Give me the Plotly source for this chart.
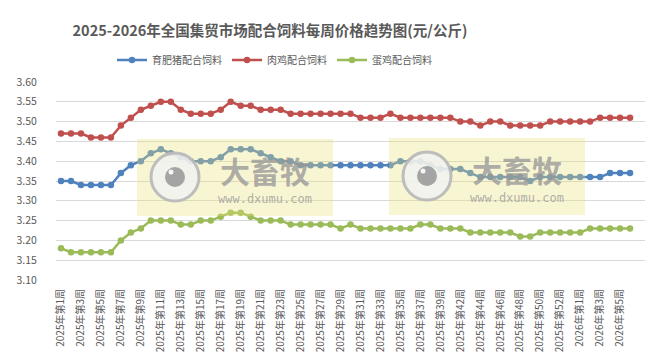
import plotly.graph_objects as go

weeks = [
    "2025年第1周", "2025年第2周", "2025年第3周", "2025年第4周", "2025年第5周", "2025年第6周",
    "2025年第7周", "2025年第8周", "2025年第9周", "2025年第10周", "2025年第11周", "2025年第12周",
    "2025年第13周", "2025年第14周", "2025年第15周", "2025年第16周", "2025年第17周", "2025年第18周",
    "2025年第19周", "2025年第20周", "2025年第21周", "2025年第22周", "2025年第23周", "2025年第24周",
    "2025年第25周", "2025年第26周", "2025年第27周", "2025年第28周", "2025年第29周", "2025年第30周",
    "2025年第31周", "2025年第32周", "2025年第33周", "2025年第34周", "2025年第35周", "2025年第36周",
    "2025年第37周", "2025年第38周", "2025年第39周", "2025年第41周", "2025年第42周", "2025年第43周",
    "2025年第44周", "2025年第45周", "2025年第46周", "2025年第47周", "2025年第48周", "2025年第49周",
    "2025年第50周", "2025年第51周", "2025年第52周", "2025年第53周", "2026年第1周", "2026年第2周",
    "2026年第3周", "2026年第4周", "2026年第5周", "2026年第6周",
]

pig_feed = [
    3.35, 3.35, 3.34, 3.34, 3.34, 3.34, 3.37, 3.39, 3.40, 3.42, 3.43, 3.42,
    3.41, 3.40, 3.40, 3.40, 3.41, 3.43, 3.43, 3.43, 3.42, 3.41, 3.40, 3.40,
    3.39, 3.39, 3.39, 3.39, 3.39, 3.39, 3.39, 3.39, 3.39, 3.39,
    3.40, 3.40, 3.40, 3.39, 3.38, 3.38, 3.38, 3.37, 3.36, 3.36, 3.36, 3.36, 3.36, 3.35,
    3.36, 3.36, 3.36, 3.36, 3.36, 3.36, 3.36, 3.37, 3.37, 3.37,
]

broiler_feed = [
    3.47, 3.47, 3.47, 3.46, 3.46, 3.46, 3.49, 3.51, 3.53, 3.54, 3.55, 3.55,
    3.53, 3.52, 3.52, 3.52, 3.53, 3.55, 3.54, 3.54, 3.53, 3.53, 3.53,
    3.52, 3.52, 3.52, 3.52, 3.52, 3.52, 3.52, 3.51, 3.51, 3.51, 3.52,
    3.51, 3.51, 3.51, 3.51, 3.51, 3.51, 3.50, 3.50, 3.49, 3.50, 3.50, 3.49, 3.49, 3.49, 3.49,
    3.50, 3.50, 3.50, 3.50, 3.50, 3.51, 3.51, 3.51, 3.51,
]

layer_feed = [
    3.18, 3.17, 3.17, 3.17, 3.17, 3.17, 3.20, 3.22, 3.23, 3.25, 3.25, 3.25,
    3.24, 3.24, 3.25, 3.25, 3.26, 3.27, 3.27, 3.26, 3.25, 3.25, 3.25,
    3.24, 3.24, 3.24, 3.24, 3.24, 3.23, 3.24, 3.23, 3.23, 3.23, 3.23, 3.23, 3.23,
    3.24, 3.24, 3.23, 3.23, 3.23, 3.22, 3.22, 3.22, 3.22, 3.22, 3.21, 3.21,
    3.22, 3.22, 3.22, 3.22, 3.22, 3.23, 3.23, 3.23, 3.23, 3.23,
]

series_names = ["育肥猪配合饲料", "肉鸡配合饲料", "蛋鸡配合饲料"]
series_colors = ["#4F81BD", "#C0504D", "#9BBB59"]

FONT = "Noto Sans CJK SC, Noto Sans, sans-serif"
TXT = "#595959"

fig = go.Figure()
for name, vals, col in zip(series_names, [pig_feed, broiler_feed, layer_feed], series_colors):
    fig.add_trace(go.Scatter(
        x=weeks, y=vals, name=name, mode="lines+markers",
        line=dict(color=col, width=2.5),
        marker=dict(color=col, size=6.5, symbol="circle"),
    ))

# plot-area pixel geometry
L, R, T, B = 48, 637, 74, 272
W, H = 654, 361

def px(x):
    return (x - L) / (R - L)

def py(y):
    return (B - y) / (B - T)

shapes = []
annotations = []
for dx, dy in [(0, 0), (252, -1)]:
    shapes.append(dict(type="rect", xref="paper", yref="paper", layer="above",
                       x0=px(129 + dx), x1=px(325 + dx), y0=py(208 + dy), y1=py(131 + dy),
                       fillcolor="rgba(235,225,120,0.33)", line=dict(width=0)))
    cx, cy = 167 + dx, 169 + dy
    r = 24
    shapes.append(dict(type="circle", xref="paper", yref="paper", layer="above",
                       x0=px(cx - r), x1=px(cx + r), y0=py(cy + r), y1=py(cy - r),
                       fillcolor="rgba(242,242,242,0.85)",
                       line=dict(color="rgba(185,185,185,0.95)", width=3)))
    r2 = 10
    shapes.append(dict(type="circle", xref="paper", yref="paper", layer="above",
                       x0=px(cx - r2), x1=px(cx + r2), y0=py(cy + r2), y1=py(cy - r2),
                       fillcolor="rgba(155,155,155,0.9)", line=dict(width=0)))
    r3 = 2.5
    shapes.append(dict(type="circle", xref="paper", yref="paper", layer="above",
                       x0=px(cx - 4 - r3), x1=px(cx - 4 + r3), y0=py(cy - 5 + r3), y1=py(cy - 5 - r3),
                       fillcolor="rgba(255,255,255,0.9)", line=dict(width=0)))
    annotations.append(dict(xref="paper", yref="paper", x=px(257 + dx), y=py(162 + dy),
                            text="<b>大畜牧</b>", showarrow=False, xanchor="center", yanchor="middle",
                            font=dict(family=FONT, size=30, color="rgba(150,150,150,0.75)")))
    annotations.append(dict(xref="paper", yref="paper", x=px(257 + dx), y=py(191 + dy),
                            text="www.dxumu.com", showarrow=False, xanchor="center", yanchor="middle",
                            font=dict(family="DejaVu Sans Mono, monospace", size=12,
                                      color="rgba(150,150,150,0.75)")))

fig.update_layout(
    width=W, height=H,
    margin=dict(l=L, r=W - R, t=T, b=H - B, autoexpand=False),
    paper_bgcolor="white", plot_bgcolor="white",
    font=dict(family=FONT, color=TXT, size=10),
    title=dict(text="2025-2026年全国集贸市场配合饲料每周价格趋势图(元/公斤)",
               x=262 / W, xanchor="center", xref="container",
               y=1 - 22.5 / H, yanchor="middle", yref="container",
               font=dict(family=FONT, size=14.5, color=TXT, weight="bold")),
    legend=dict(orientation="h", xref="container", yref="container",
                x=104 / W, xanchor="left", y=1 - 52 / H, yanchor="middle",
                font=dict(family=FONT, size=10, color=TXT),
                bgcolor="rgba(0,0,0,0)", itemwidth=30, tracegroupgap=0),
    showlegend=True,
    shapes=shapes,
    annotations=annotations,
    xaxis=dict(type="category", range=[-0.5, 58.5], dtick=2, tick0=0,
               tickangle=-90, showgrid=False, showline=False, zeroline=False,
               ticks="", ticklabelstandoff=6, automargin=False,
               tickfont=dict(family=FONT, size=10, color=TXT)),
    yaxis=dict(range=[3.10, 3.60], dtick=0.05, tick0=3.10, tickformat=".2f",
               showgrid=True, gridcolor="#D9D9D9", gridwidth=1,
               showline=False, zeroline=False, ticks="outside", ticklen=16,
               tickcolor="rgba(0,0,0,0)",
               automargin=False, tickfont=dict(family=FONT, size=10.5, color=TXT)),
)

fig.write_html("out.html")
